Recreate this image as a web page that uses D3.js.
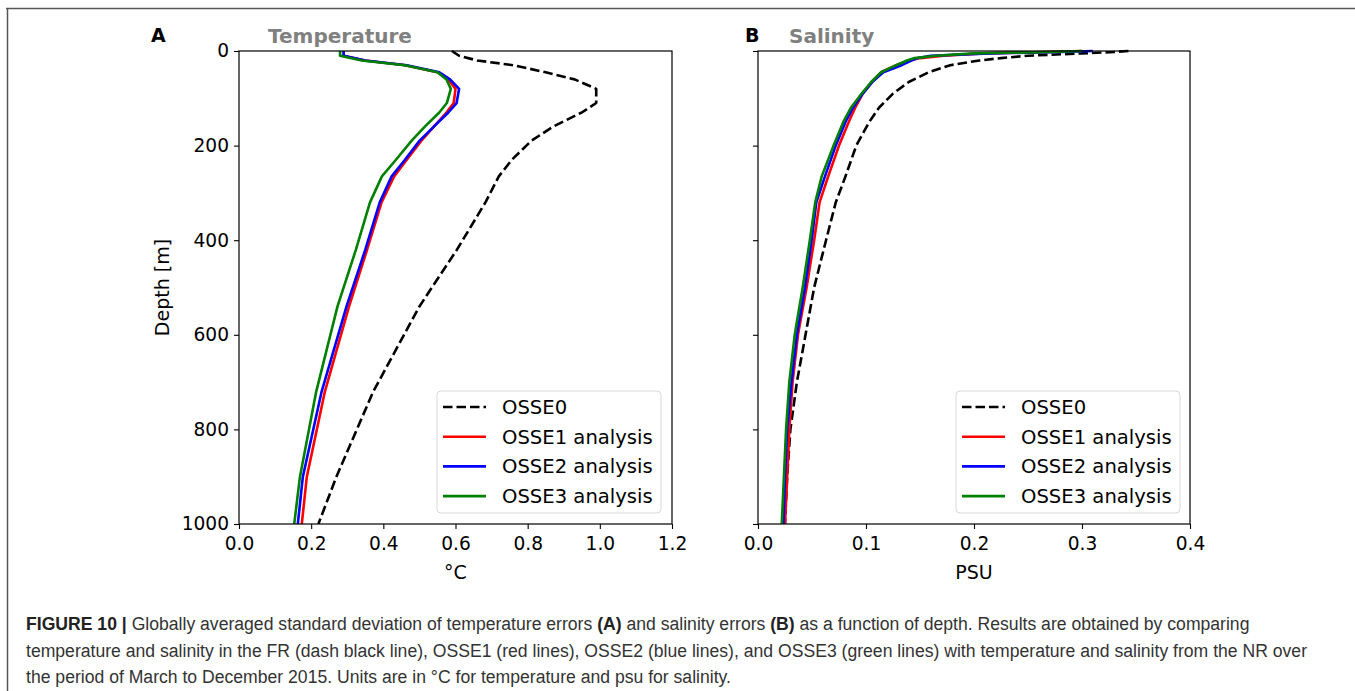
<!DOCTYPE html>
<html>
<head>
<meta charset="utf-8">
<script src="https://cdn.jsdelivr.net/npm/d3@7"></script>
<style>
  body { margin: 0; background: #fff; }
  svg { display: block; }
  .tick text { font-family: "DejaVu Sans", sans-serif; font-size: 18.6px; fill: #000; }
  .axis-label { font-family: "DejaVu Sans", sans-serif; font-size: 19px; fill: #000; }
  .legend-text { font-family: "DejaVu Sans", sans-serif; font-size: 19.6px; fill: #000; }
  .caption { font-family: "Liberation Sans", Arial, sans-serif; font-size: 17.6px; fill: #333; }
</style>
</head>
<body>
<div id="chart"></div>
<script>
// 1: DATA
// panel A: temperature error std (°C) against depth (m)
const depthT = [0, 10, 20, 30, 45, 60, 80, 110, 130, 160, 190, 230, 265, 320, 420, 540, 720, 900, 1000];
const tempOSSE0 = [0.59, 0.61, 0.66, 0.76, 0.85, 0.93, 0.99, 0.99, 0.95, 0.87, 0.81, 0.756, 0.72, 0.683, 0.604, 0.50, 0.372, 0.27, 0.22];
const tempOSSE1 = [0.29, 0.29, 0.35, 0.46, 0.55, 0.58, 0.60, 0.595, 0.575, 0.54, 0.505, 0.465, 0.43, 0.395, 0.355, 0.305, 0.238, 0.188, 0.174];
const tempOSSE2 = [0.29, 0.29, 0.35, 0.465, 0.555, 0.585, 0.61, 0.603, 0.58, 0.54, 0.50, 0.46, 0.423, 0.39, 0.35, 0.298, 0.229, 0.177, 0.163];
const tempOSSE3 = [0.28, 0.28, 0.34, 0.46, 0.55, 0.575, 0.587, 0.576, 0.555, 0.515, 0.478, 0.435, 0.396, 0.363, 0.324, 0.273, 0.214, 0.169, 0.153];

// panel B: salinity error std (PSU) against depth (m)
const depthS = [0, 2, 5, 10, 15, 20, 30, 45, 65, 90, 120, 150, 200, 265, 320, 400, 500, 600, 700, 800, 900, 1000];
const salOSSE0 = [0.343, 0.33, 0.30, 0.25, 0.225, 0.205, 0.178, 0.158, 0.14, 0.125, 0.112, 0.103, 0.091, 0.081, 0.072, 0.063, 0.052, 0.044, 0.036, 0.030, 0.027, 0.025];
const salOSSE1 = [0.30, 0.27, 0.208, 0.172, 0.15, 0.14, 0.128, 0.114, 0.106, 0.097, 0.09, 0.084, 0.075, 0.065, 0.057, 0.052, 0.045, 0.037, 0.032, 0.029, 0.027, 0.025];
const salOSSE2 = [0.31, 0.28, 0.215, 0.16, 0.148, 0.142, 0.133, 0.116, 0.106, 0.097, 0.088, 0.081, 0.072, 0.062, 0.054, 0.0497, 0.0435, 0.036, 0.031, 0.027, 0.025, 0.0235];
const salOSSE3 = [0.30, 0.27, 0.20, 0.165, 0.145, 0.138, 0.128, 0.114, 0.105, 0.096, 0.086, 0.079, 0.070, 0.059, 0.053, 0.048, 0.0414, 0.034, 0.029, 0.026, 0.024, 0.022];

const seriesNames = ["OSSE0", "OSSE1 analysis", "OSSE2 analysis", "OSSE3 analysis"];
const seriesColors = ["#000000", "#ff0000", "#0000ff", "#008000"];
const depthTicks = [0, 200, 400, 600, 800, 1000];
const tempTicks = [0, 0.2, 0.4, 0.6, 0.8, 1.0, 1.2];
const salTicks = [0, 0.1, 0.2, 0.3, 0.4];

const captionLines = [
    [{ b: true, t: "FIGURE 10 | " }, { t: "Globally averaged standard deviation of temperature errors " }, { b: true, t: "(A)" }, { t: " and salinity errors " }, { b: true, t: "(B)" }, { t: " as a function of depth. Results are obtained by comparing" }],
    [{ t: "temperature and salinity in the FR (dash black line), OSSE1 (red lines), OSSE2 (blue lines), and OSSE3 (green lines) with temperature and salinity from the NR over" }],
    [{ t: "the period of March to December 2015. Units are in °C for temperature and psu for salinity." }]
];

// 2: SVG
const W = 1355, H = 691;
const svg = d3.select("#chart").append("svg")
    .attr("width", W)
    .attr("height", H);

// outer figure frame (top and left edges visible)
svg.append("path")
    .attr("d", `M6,8.5 H${W} M7.5,8 V${H}`)
    .attr("fill", "none")
    .attr("stroke", "#555")
    .attr("stroke-width", 1.5);

const plotTop = 51, plotBottom = 524;
const yScale = d3.scaleLinear().domain([0, 1000]).range([plotTop, plotBottom]);

function drawPanel(cfg) {
    const x = d3.scaleLinear().domain(cfg.domain).range([cfg.left, cfg.right]);
    const g = svg.append("g");

    const line = d3.line()
        .x(d => x(d[0]))
        .y(d => yScale(d[1]));

    // clip to the axes box
    const clipId = "clip-" + cfg.id;
    svg.append("clipPath").attr("id", clipId)
        .append("rect")
        .attr("x", cfg.left).attr("y", plotTop - 2)
        .attr("width", cfg.right - cfg.left).attr("height", plotBottom - plotTop + 2);

    const lines = g.append("g").attr("clip-path", `url(#${clipId})`);
    // draw in matplotlib order: OSSE0, 1, 2, 3
    cfg.values.forEach((vals, i) => {
        const pts = vals.map((v, k) => [v, cfg.depth[k]]);
        lines.append("path")
            .datum(pts)
            .attr("fill", "none")
            .attr("stroke", seriesColors[i])
            .attr("stroke-width", 2.6)
            .attr("stroke-linejoin", "round")
            .attr("stroke-dasharray", i === 0 ? "9.5,4" : null)
            .attr("d", line);
    });

    // axes
    const xAxis = g.append("g")
        .attr("transform", `translate(0,${plotBottom})`)
        .call(d3.axisBottom(x).tickValues(cfg.ticks).tickFormat(d3.format(".1f")).tickSize(5).tickPadding(4));
    const yAxis = g.append("g")
        .attr("transform", `translate(${cfg.left},0)`)
        .call(d3.axisLeft(yScale).tickValues(depthTicks).tickSize(5).tickPadding(5)
            .tickFormat(cfg.yLabels ? d3.format("d") : () => ""));
    [xAxis, yAxis].forEach(a => {
        a.select(".domain").remove();
        a.selectAll(".tick line").attr("stroke", "#000").attr("stroke-width", 1.1);
    });
    xAxis.selectAll(".tick text").attr("dy", "0.92em");

    // spines
    g.append("rect")
        .attr("x", cfg.left).attr("y", plotTop)
        .attr("width", cfg.right - cfg.left).attr("height", plotBottom - plotTop)
        .attr("fill", "none")
        .attr("stroke", "#000")
        .attr("stroke-width", 1.2);

    // x label
    g.append("text")
        .attr("class", "axis-label")
        .attr("x", (cfg.left + cfg.right) / 2)
        .attr("y", 579)
        .attr("text-anchor", "middle")
        .text(cfg.xLabel);

    // panel letter and title
    g.append("text")
        .attr("x", cfg.letterX).attr("y", 42)
        .attr("font-family", "DejaVu Sans, sans-serif")
        .attr("font-weight", "bold")
        .attr("font-size", 19)
        .attr("fill", "#000")
        .text(cfg.letter);
    g.append("text")
        .attr("x", cfg.titleX).attr("y", 43)
        .attr("font-family", "DejaVu Sans, sans-serif")
        .attr("font-weight", "bold")
        .attr("font-size", 20)
        .attr("fill", "#808080")
        .text(cfg.title);

    // legend
    const lx = cfg.legendX, ly = 391;
    const legend = g.append("g").attr("class", "legend");
    legend.append("rect")
        .attr("x", lx).attr("y", ly)
        .attr("width", 224).attr("height", 122)
        .attr("rx", 4)
        .attr("fill", "#fff")
        .attr("fill-opacity", 0.8)
        .attr("stroke", "#d8d8d8")
        .attr("stroke-width", 1);
    seriesNames.forEach((name, i) => {
        const ry = ly + 16 + i * 29.7;
        legend.append("line")
            .attr("x1", lx + 6).attr("x2", lx + 49)
            .attr("y1", ry).attr("y2", ry)
            .attr("stroke", seriesColors[i])
            .attr("stroke-width", 2.6)
            .attr("stroke-dasharray", i === 0 ? "9.5,4" : null);
        legend.append("text")
            .attr("class", "legend-text")
            .attr("x", lx + 65)
            .attr("y", ry)
            .attr("dy", "0.36em")
            .text(name);
    });
}

drawPanel({
    id: "A", left: 239, right: 672, domain: [0, 1.2], ticks: tempTicks,
    depth: depthT, values: [tempOSSE0, tempOSSE1, tempOSSE2, tempOSSE3],
    yLabels: true, xLabel: "°C", letter: "A", letterX: 151, title: "Temperature", titleX: 268,
    legendX: 437
});
drawPanel({
    id: "B", left: 758, right: 1190, domain: [0, 0.4], ticks: salTicks,
    depth: depthS, values: [salOSSE0, salOSSE1, salOSSE2, salOSSE3],
    yLabels: false, xLabel: "PSU", letter: "B", letterX: 745, title: "Salinity", titleX: 789,
    legendX: 956
});

// y label
svg.append("text")
    .attr("class", "axis-label")
    .attr("transform", `translate(169,${(plotTop + plotBottom) / 2}) rotate(-90)`)
    .attr("text-anchor", "middle")
    .text("Depth [m]");

// caption
captionLines.forEach((parts, i) => {
    const t = svg.append("text")
        .attr("class", "caption")
        .attr("x", 26)
        .attr("y", 630 + i * 26.5);
    parts.forEach(p => {
        t.append("tspan")
            .attr("font-weight", p.b ? "bold" : null)
            .attr("fill", p.b ? "#222" : null)
            .text(p.t);
    });
});
</script>
</body>
</html>
